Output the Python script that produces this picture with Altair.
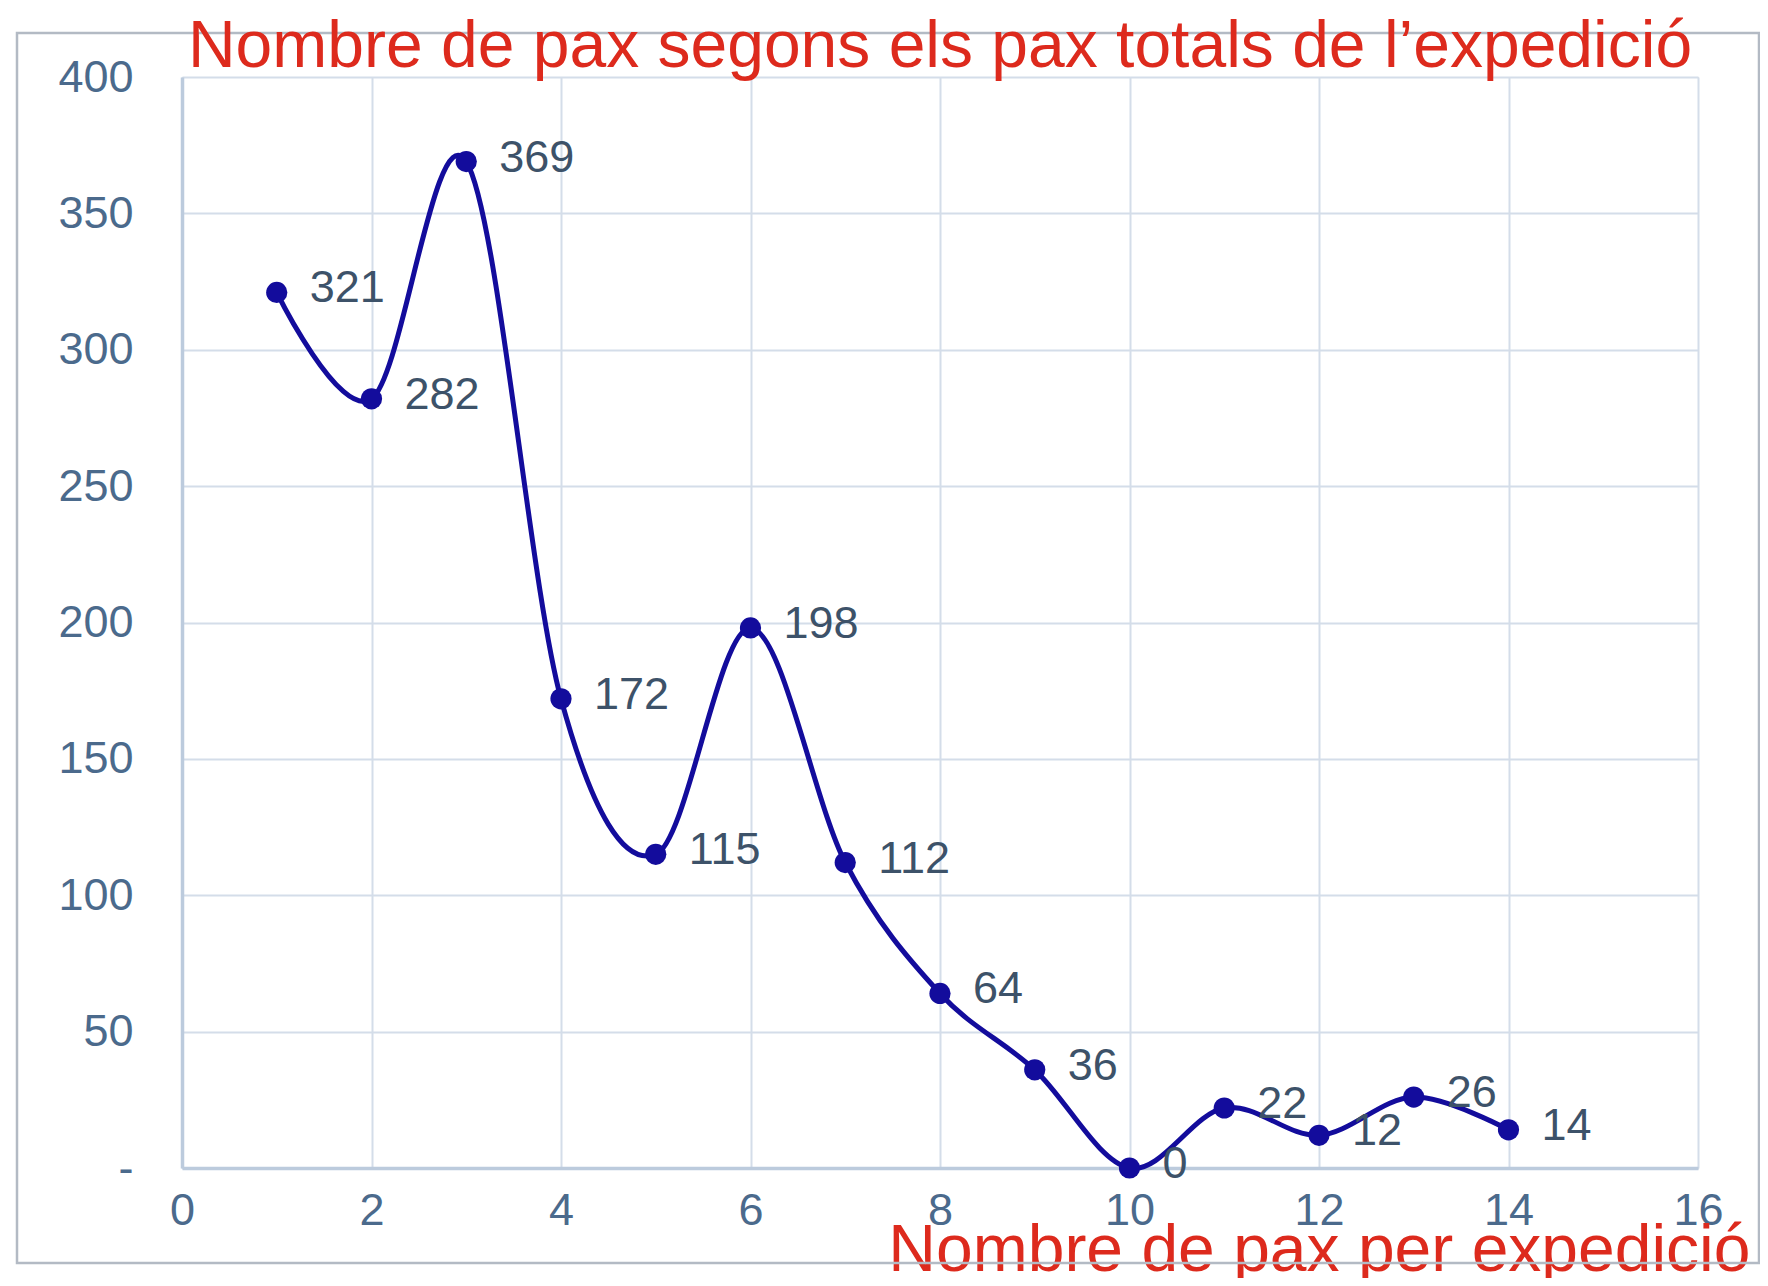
import altair as alt
import pandas as pd

pax_per_exp = [1, 2, 3, 4, 5, 6, 7, 8, 9, 10, 11, 12, 13, 14]
pax_totals = [321, 282, 369, 172, 115, 198, 112, 64, 36, 0, 22, 12, 26, 14]
x_ticks = [0, 2, 4, 6, 8, 10, 12, 14, 16]
y_ticks = [0, 50, 100, 150, 200, 250, 300, 350, 400]

title_text = "Nombre de pax segons els pax totals de l\u2019expedició"
x_title = "Nombre de pax per expedició"

FONT = "Liberation Sans"
RED = "#dd2a1d"
LINE = "#130c9c"
TICK_COL = "#4b6a8c"
LABEL_COL = "#3d5269"
GRID = "#d4dde9"
AXIS = "#bccbdd"

df = pd.DataFrame({"x": pax_per_exp, "y": pax_totals})

W, H = 1516, 1091

xs = alt.X(
    "x:Q",
    scale=alt.Scale(domain=[0, 16], nice=False, zero=False),
    axis=alt.Axis(
        values=x_ticks,
        format="d",
        title=x_title,
        titleFont=FONT,
        titleFontSize=66,
        titleFontWeight="normal",
        titleColor=RED,
        titleX=1568,
        titleY=102,
        titleAlign="right",
        titleBaseline="alphabetic",
        labelFont=FONT,
        labelFontSize=45,
        labelColor=TICK_COL,
        labelPadding=20,
        labelFlush=False,
        labelOverlap=False,
        ticks=False,
        domainColor=AXIS,
        domainWidth=3.5,
        gridColor=GRID,
        gridWidth=2,
    ),
)
ys = alt.Y(
    "y:Q",
    scale=alt.Scale(domain=[0, 400], nice=False),
    axis=alt.Axis(
        values=y_ticks,
        title=None,
        labelExpr="datum.value == 0 ? '-' : datum.label",
        labelFont=FONT,
        labelFontSize=45,
        labelColor=TICK_COL,
        labelPadding=49,
        labelFlush=False,
        labelOverlap=False,
        ticks=False,
        domainColor=AXIS,
        domainWidth=3.5,
        gridColor=GRID,
        gridWidth=2,
    ),
)

base = alt.Chart(df)

line = base.mark_line(
    interpolate="cardinal", tension=0, color=LINE, strokeWidth=5
).encode(x=xs, y=ys)

points = base.mark_circle(size=450, color=LINE, opacity=1).encode(x="x:Q", y="y:Q")

labels = base.mark_text(
    align="left", baseline="middle", dx=33, dy=-4,
    font=FONT, fontSize=45, color=LABEL_COL
).encode(x="x:Q", y="y:Q", text="y:Q")

frame = alt.Chart(alt.Data(values=[{"a": 1}])).mark_rect(
    fill=None, stroke="#b3bac4", strokeWidth=2.5
).encode(
    x=alt.value(-165), x2=alt.value(1577),
    y=alt.value(-44), y2=alt.value(1186),
)

chart = alt.layer(frame, line, points, labels).properties(
    width=W,
    height=H,
    title=alt.TitleParams(
        text=title_text,
        font=FONT,
        fontSize=66,
        fontWeight="normal",
        color=RED,
        anchor="middle",
        frame="group",
        offset=0,
        dy=49,
    ),
    autosize=alt.AutoSizeParams(type="none"),
    padding={"left": 174, "top": 69, "right": 62, "bottom": 110},
).configure_view(stroke=None).configure(background="white")

chart.save("out.html", embed_options={"renderer": "svg", "actions": False})
